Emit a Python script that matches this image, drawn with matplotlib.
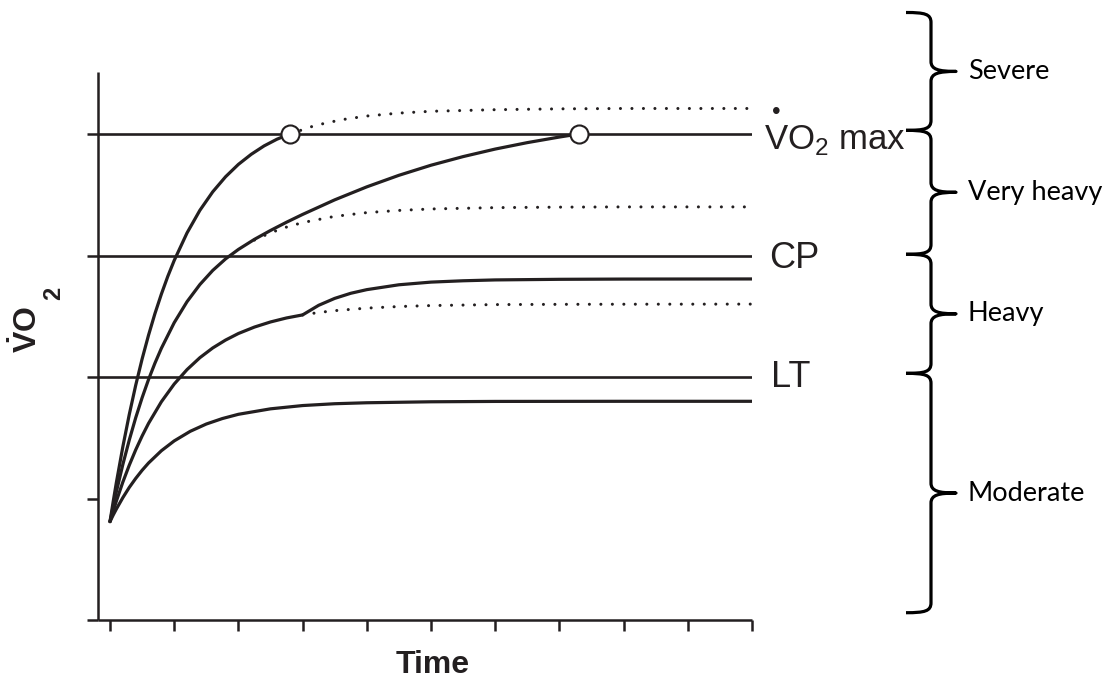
import matplotlib
matplotlib.use("Agg")
import matplotlib.pyplot as plt
import matplotlib.transforms as mtransforms
from matplotlib.path import Path
from matplotlib.patches import PathPatch

# ---------------- data ----------------
time_ticks = [0, 1, 2, 3, 4, 5, 6, 7, 8, 9, 10]
vo2_ticks = [0, 1, 2, 3, 4]

threshold_names = ["LT", "CP", "VO2max"]
threshold_levels = [2.0, 3.0, 4.0]

# Severe domain: solid until VO2max reached, dotted projection afterwards
severe_t = [0, 0.05, 0.1, 0.2, 0.3, 0.4, 0.5, 0.6, 0.7, 0.8, 0.9, 1.0, 1.2, 1.4,
            1.6, 1.8, 2.0, 2.2, 2.4, 2.6, 2.8]
severe_v = [0.81, 0.976, 1.134, 1.426, 1.691, 1.931, 2.148, 2.344, 2.522, 2.682,
            2.828, 2.959, 3.186, 3.372, 3.524, 3.648, 3.750, 3.833, 3.902, 3.957, 4.0]
severe_proj_t = [2.8, 3.2, 3.6, 4.0, 4.5, 5.0, 6.0, 7.0, 8.0, 10.0]
severe_proj_v = [4.0, 4.071, 4.117, 4.148, 4.172, 4.187, 4.200, 4.207, 4.21, 4.21]

# Very heavy domain
vheavy_t = [0, 0.05, 0.1, 0.2, 0.3, 0.4, 0.5, 0.6, 0.7, 0.8, 1.0, 1.2, 1.4, 1.6,
            1.8, 2.0, 2.25, 2.5, 2.75, 3.0, 3.5, 4.0, 4.5, 5.0, 5.5, 6.0, 6.5, 7.0, 7.3]
vheavy_v = [0.81, 0.936, 1.057, 1.280, 1.481, 1.664, 1.829, 1.979, 2.114, 2.236,
            2.447, 2.620, 2.761, 2.877, 2.972, 3.050, 3.133, 3.206, 3.274, 3.338,
            3.458, 3.565, 3.660, 3.743, 3.814, 3.876, 3.929, 3.975, 4.0]
vheavy_proj_t = [2.25, 2.5, 2.75, 3.0, 3.5, 4.0, 4.5, 5.0, 6.0, 7.0, 8.0, 10.0]
vheavy_proj_v = [3.127, 3.187, 3.234, 3.271, 3.322, 3.353, 3.371, 3.383, 3.394,
                 3.398, 3.40, 3.40]

# Heavy domain
heavy_t = [0, 0.05, 0.1, 0.2, 0.3, 0.4, 0.5, 0.6, 0.8, 1.0, 1.2, 1.4, 1.6, 1.8,
           2.0, 2.25, 2.5, 2.75, 3.0, 3.25, 3.5, 3.75, 4.0, 4.5, 5.0, 5.5, 6.0,
           7.0, 8.0, 10.0]
heavy_v = [0.81, 0.897, 0.980, 1.135, 1.274, 1.400, 1.514, 1.618, 1.796, 1.942,
           2.061, 2.159, 2.239, 2.304, 2.358, 2.411, 2.453, 2.486, 2.511, 2.590,
           2.647, 2.689, 2.719, 2.759, 2.781, 2.792, 2.799, 2.804, 2.806, 2.807]
heavy_proj_t = [3.0, 3.25, 3.5, 4.0, 4.5, 5.0, 6.0, 7.0, 8.0, 10.0]
heavy_proj_v = [2.511, 2.531, 2.546, 2.567, 2.580, 2.588, 2.596, 2.598, 2.599, 2.60]

# Moderate domain
moderate_t = [0, 0.05, 0.1, 0.2, 0.3, 0.4, 0.5, 0.6, 0.8, 1.0, 1.25, 1.5, 1.75,
              2.0, 2.5, 3.0, 3.5, 4.0, 5.0, 6.0, 8.0, 10.0]
moderate_v = [0.81, 0.864, 0.914, 1.007, 1.091, 1.165, 1.232, 1.292, 1.393, 1.474,
              1.553, 1.613, 1.658, 1.693, 1.738, 1.765, 1.780, 1.788, 1.796, 1.799,
              1.80, 1.80]

# times at which VO2max is attained (open circles)
vo2max_reached_t = [2.8, 7.3]
vo2max_reached_v = [4.0, 4.0]

# intensity domains (brackets on the right)
zone_names = ["Moderate", "Heavy", "Very heavy", "Severe"]
zone_bounds = [0.06, 2.03, 3.01, 4.03, 5.0]

# ---------------- fonts ----------------
plt.rcParams["mathtext.fontset"] = "custom"
plt.rcParams["mathtext.rm"] = "Liberation Sans"
plt.rcParams["mathtext.it"] = "Liberation Sans"
plt.rcParams["mathtext.bf"] = "Liberation Sans:bold"
plt.rcParams["font.family"] = ["Liberation Sans", "DejaVu Sans"]

INK = "#231f20"

# ---------------- figure ----------------
fig = plt.figure(figsize=(11.15, 6.78), dpi=100)
fig.patch.set_facecolor("white")
ax = fig.add_axes([98 / 1115, 58 / 678, 654 / 1115, 548 / 678])
ax.set_xlim(-12 / 64.2, 10)
ax.set_ylim(0, 548 / 121.5)

for s in ["top", "right"]:
    ax.spines[s].set_visible(False)
for s in ["left", "bottom"]:
    ax.spines[s].set_linewidth(1.8)
    ax.spines[s].set_color(INK)
    ax.spines[s].set_capstyle("butt")

ax.set_xticks(time_ticks)
ax.set_yticks(vo2_ticks)
ax.set_xticklabels([])
ax.set_yticklabels([])
ax.tick_params(axis="both", direction="out", length=8.2, width=1.8, color=INK)

# threshold lines
ax.hlines(threshold_levels, -12 / 64.2, 10, colors=INK, lw=1.9, zorder=2)

curve_kw = dict(color=INK, lw=2.3, solid_capstyle="round", solid_joinstyle="round",
                zorder=3)
dot_kw = dict(color=INK, lw=2.2, linestyle=(0, (0.01, 3.75)),
              dash_capstyle="round", zorder=2.5)

ax.plot(moderate_t, moderate_v, **curve_kw)
ax.plot(heavy_t, heavy_v, **curve_kw)
ax.plot(heavy_proj_t, heavy_proj_v, **dot_kw)
ax.plot(vheavy_t, vheavy_v, **curve_kw)
ax.plot(vheavy_proj_t, vheavy_proj_v, **dot_kw)
ax.plot(severe_t, severe_v, **curve_kw)
ax.plot(severe_proj_t, severe_proj_v, **dot_kw)
ax.plot(vo2max_reached_t, vo2max_reached_v, linestyle="none", marker="o",
        markersize=13, markerfacecolor="white", markeredgecolor=INK,
        markeredgewidth=1.5, zorder=4)

# threshold labels
ax.annotate("$\\overset{\u2022}{\\mathrm{V}}\\mathrm{O}_2$ max",
            xy=(10, threshold_levels[2]), xytext=(9, -11.5),
            textcoords="offset points", ha="left", va="baseline",
            fontsize=25, color=INK, annotation_clip=False)
ax.annotate("CP", xy=(10, threshold_levels[1]), xytext=(12.5, -8.8),
            textcoords="offset points", ha="left", va="baseline",
            fontsize=26, color=INK, annotation_clip=False)
ax.annotate("LT", xy=(10, threshold_levels[0]), xytext=(13.5, -7.4),
            textcoords="offset points", ha="left", va="baseline",
            fontsize=26, color=INK, annotation_clip=False)

# axis labels
ax.text((432.5 - 98) / 654, (620 - 673) / 548, "Time", transform=ax.transAxes,
        ha="center", va="baseline", fontsize=23, fontweight="bold", color=INK)
ax.text((37 - 98) / 654, (620 - 353) / 548, r"$\mathbf{\dot{V}O}$",
        transform=ax.transAxes, ha="left", va="baseline", rotation=90,
        rotation_mode="anchor", fontsize=23, color=INK)
ax.text((60 - 98) / 654, (620 - 300) / 548, "2", fontweight="bold",
        transform=ax.transAxes, ha="left", va="baseline", rotation=90,
        rotation_mode="anchor", fontsize=17, color=INK)

# ---------------- domain brackets ----------------
blend = mtransforms.blended_transform_factory(ax.transAxes, ax.transData)
xl = (906 - 98) / 654
xv = (931 - 98) / 654
xt = (956 - 98) / 654
r = 10 / 121.5


def brace(y0, y1):
    ym = 0.5 * (y0 + y1)
    dxh = (xv - xl)
    dxt = (xt - xv)
    verts = [
        (xl, y1),
        (xl + 0.75 * dxh, y1), (xv, y1 - 0.15 * r), (xv, y1 - r),
        (xv, ym + r),
        (xv, ym + 0.2 * r), (xv + 0.3 * dxt, ym), (xt, ym),
        (xv + 0.3 * dxt, ym), (xv, ym - 0.2 * r), (xv, ym - r),
        (xv, y0 + r),
        (xv, y0 + 0.15 * r), (xl + 0.75 * dxh, y0), (xl, y0),
    ]
    codes = [Path.MOVETO,
             Path.CURVE4, Path.CURVE4, Path.CURVE4,
             Path.LINETO,
             Path.CURVE4, Path.CURVE4, Path.CURVE4,
             Path.CURVE4, Path.CURVE4, Path.CURVE4,
             Path.LINETO,
             Path.CURVE4, Path.CURVE4, Path.CURVE4]
    patch = PathPatch(Path(verts, codes), transform=blend, fill=False,
                      edgecolor="black", lw=2.3, joinstyle="round",
                      capstyle="butt", clip_on=False)
    ax.add_patch(patch)
    return ym


for name, y0, y1 in zip(zone_names, zone_bounds[:-1], zone_bounds[1:]):
    ym = brace(y0, y1)
    ax.text((968 - 98) / 654, ym, name, transform=blend, ha="left",
            va="center", fontsize=19.5, family=["Lato", "DejaVu Sans"],
            color="black", clip_on=False)

fig.savefig("out.png", dpi=100, facecolor="white")
